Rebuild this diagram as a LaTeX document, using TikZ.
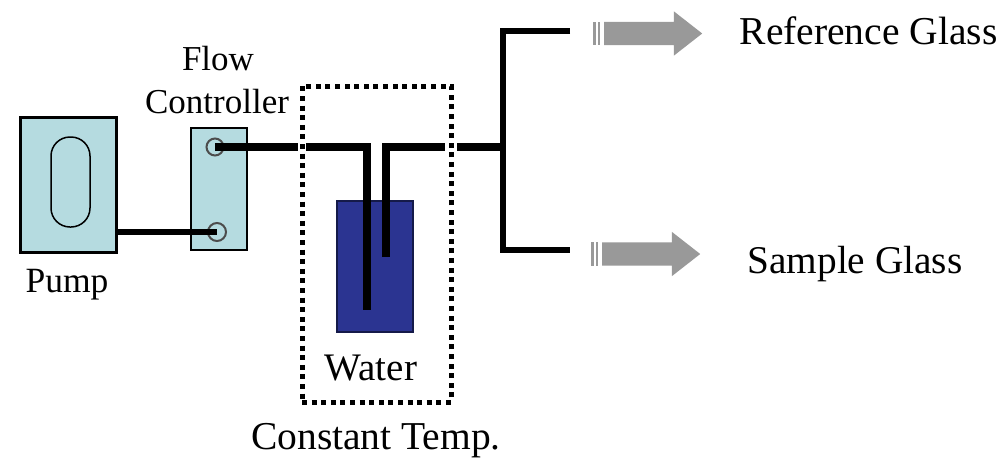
\documentclass[tikz,border=0pt]{standalone}
\usepackage{fontspec}
\setmainfont{Liberation Serif}
\usetikzlibrary{shapes.arrows}
\definecolor{paneblue}{HTML}{B5DBE0}
\definecolor{waterblue}{HTML}{2B3491}
\definecolor{arrowgray}{HTML}{999999}
\tikzset{
  panel/.style={draw=black,fill=paneblue,line width=2.5pt,inner sep=0pt,minimum width=#1},
  port/.style={circle,draw=black!70,line width=2pt,inner sep=0pt,minimum size=#1},
  pipe/.style={line width=7.5pt,draw=black,line join=miter},
  feedpipe/.style={line width=6pt,draw=black},
  thinpipe/.style={line width=6.5pt,draw=black,line join=miter},
  label/.style={inner sep=0pt,anchor=base},
  flowarrow/.style={single arrow,fill=arrowgray,inner xsep=0pt,inner ysep=11.5pt,minimum width=44pt,minimum height=98pt,
    single arrow head extend=10.5pt,single arrow tip angle=76,anchor=tail},
  tick/.style={line width=2.5pt,draw=arrowgray}
}
\begin{document}
\begin{tikzpicture}[x=1pt,y=-1pt]
\useasboundingbox (0,0) rectangle (1000,474);
\fill[white] (0,0) rectangle (1000,474);
% pump
\node[panel=96pt,minimum height=135pt,line width=3pt] (pump) at (68,184.5) {};
\node[draw=black,line width=1.5pt,rounded corners=19pt,minimum width=39pt,minimum height=90pt,inner sep=0pt] (oval) at (70.5,182) {};
% controller
\node[panel=56pt,minimum height=122pt] (ctrl) at (219,189) {};
\node[port=17pt] (top) at (215,147) {};
\node[port=18pt] (bot) at (217,232) {};
% water
\node[draw=black!50!waterblue,fill=waterblue,line width=2pt,inner sep=0pt,minimum width=76pt,minimum height=131pt] (water) at (375,266.5) {};
% constant temp box
\node[draw=black,line width=5pt,dash pattern=on 5pt off 4.6pt,inner sep=0pt,minimum width=149pt,minimum height=316pt] (bath) at (376.5,244) {};
% connector ends
\coordinate (g1) at (298,147);
\coordinate (g2) at (306,147);
\coordinate (lc) at (367,147);
\coordinate (ltip) at (367,310);
\coordinate (rc) at (386,147);
\coordinate (rtip) at (386,257);
\coordinate (g3) at (445,147);
\coordinate (g4) at (457,147);
\coordinate (j) at (503,147);
\coordinate (jt) at (503,31);
\coordinate (jb) at (503,250);
\coordinate (et) at (570,31);
\coordinate (eb) at (570,250);
% pipes
\draw[feedpipe] (pump.east |- bot) -- (bot.center);
\draw[pipe] (top.center) -- (g1);
\draw[pipe] (g2) -- (lc) -- (ltip);
\draw[pipe] (rtip) -- (rc) -- (g3);
\draw[pipe] (g4) -- (j);
\draw[thinpipe] (et) -- (jt) -- (jb) -- (eb);
% outlet arrows
\node[flowarrow] (ra) at (604,33.5) {};
\node[flowarrow] (sa) at (602,254) {};
\draw[tick] ([xshift=-9.5pt]ra.tail |- 0,22) -- ([xshift=-9.5pt]ra.tail |- 0,45);
\draw[tick] ([xshift=-5pt]ra.tail |- 0,22) -- ([xshift=-5pt]ra.tail |- 0,45);
\draw[tick] ([xshift=-9.5pt]sa.tail |- 0,242) -- ([xshift=-9.5pt]sa.tail |- 0,266);
\draw[tick] ([xshift=-5pt]sa.tail |- 0,242) -- ([xshift=-5pt]sa.tail |- 0,266);
% labels
\node[label] (l1) at (218,70) {\fontsize{35}{35}\selectfont Flow};
\node[label] (l2) at (217,113) {\fontsize{35}{35}\selectfont Controller};
\node[label] (l3) at (67,292) {\fontsize{35.5}{35.5}\selectfont Pump};
\node[label] (l4) at (371,380) {\fontsize{39}{39}\selectfont Water};
\node[label] (l5) at (376,449) {\fontsize{39.5}{39.5}\selectfont Constant Temp.};
\node[label] (l6) at (868.5,44) {\fontsize{39.5}{39.5}\selectfont Reference Glass};
\node[label] (l7) at (855,273) {\fontsize{39.3}{39.3}\selectfont Sample Glass};
\end{tikzpicture}
\end{document}
